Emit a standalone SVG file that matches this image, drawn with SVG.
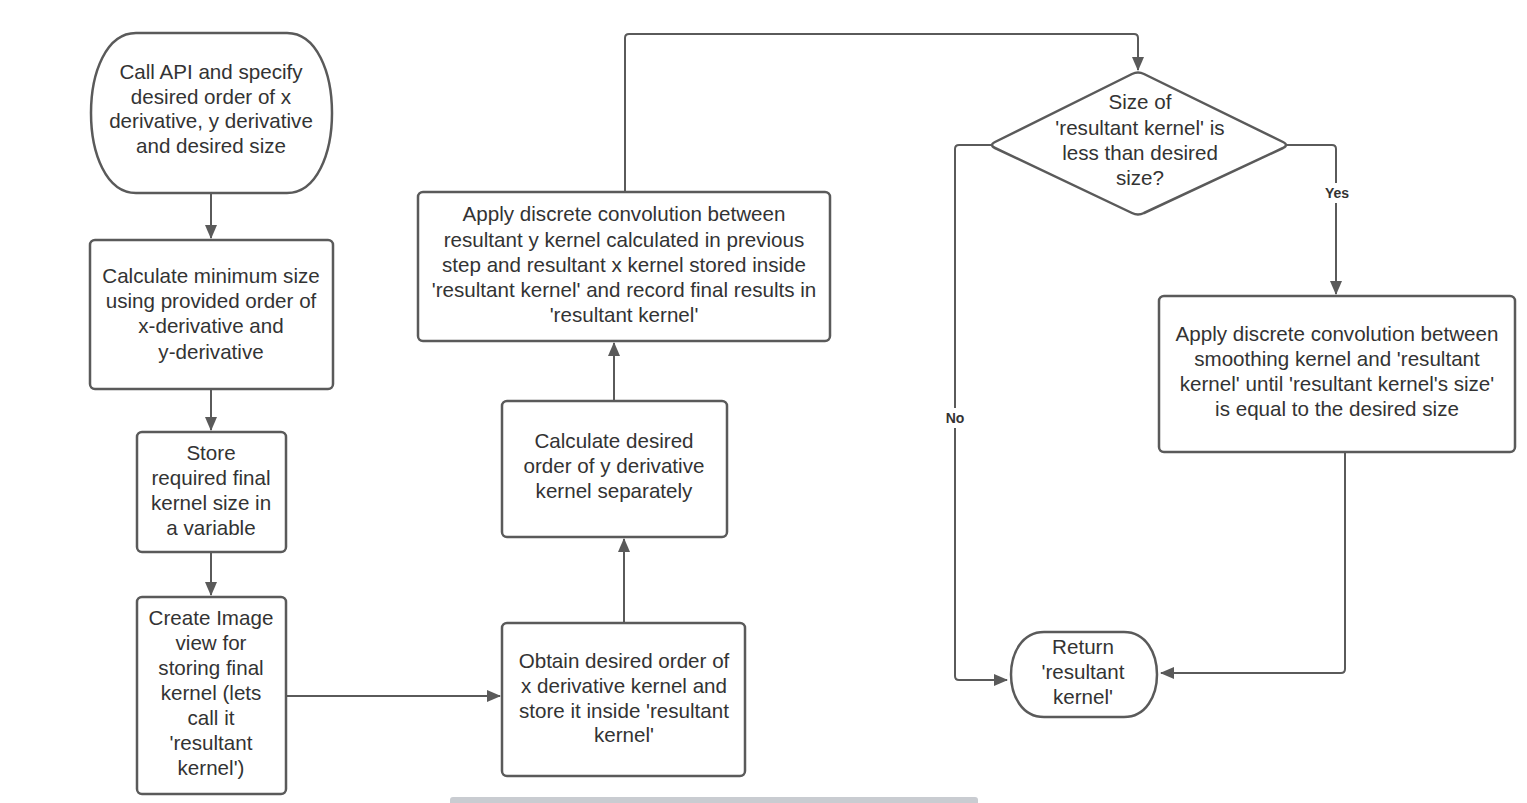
<svg xmlns="http://www.w3.org/2000/svg" width="1527" height="803" viewBox="0 0 1527 803">
<defs>
<marker id="ah" markerWidth="14" markerHeight="12" refX="13" refY="6" orient="auto" markerUnits="userSpaceOnUse" viewBox="0 0 14 12">
<path d="M0,0 L14,6 L0,12 z" fill="#5a5a5a"/>
</marker>
<style>
.s{fill:#fff;stroke:#5a5a5a;stroke-width:2.5}
.c{fill:none;stroke:#5a5a5a;stroke-width:2;stroke-linejoin:round}
.t{font-family:"Liberation Sans",Arial,sans-serif;font-size:20.6px;fill:#333;text-anchor:middle}
.l{font-family:"Liberation Sans",Arial,sans-serif;font-size:14px;font-weight:bold;fill:#333;text-anchor:middle}
</style>
</defs>
<rect width="1527" height="803" fill="#fff"/>
<g id="connectors">
<path class="c" d="M211,193 V238" marker-end="url(#ah)"/>
<path class="c" d="M211,389 V430" marker-end="url(#ah)"/>
<path class="c" d="M211,552 V595" marker-end="url(#ah)"/>
<path class="c" d="M286,696 H500" marker-end="url(#ah)"/>
<path class="c" d="M624,623 V539" marker-end="url(#ah)"/>
<path class="c" d="M614,401 V343" marker-end="url(#ah)"/>
<path class="c" d="M625,192 V38 Q625,34 629,34 H1134 Q1138,34 1138,38 V70" marker-end="url(#ah)"/>
<path class="c" d="M1287,145 H1332 Q1336,145 1336,149 V294" marker-end="url(#ah)"/>
<path class="c" d="M1345,452 V669 Q1345,673 1341,673 H1161" marker-end="url(#ah)"/>
<path class="c" d="M991,145 H959 Q955,145 955,149 V676 Q955,680 959,680 H1007" marker-end="url(#ah)"/>
<rect x="1320" y="183" width="34" height="20" fill="#fff"/>
<text class="l" x="1337" y="198">Yes</text>
<rect x="940" y="408" width="30" height="20" fill="#fff"/>
<text class="l" x="955" y="423">No</text>
</g>
<g id="start">
<path class="s" d="M136,33 H287 C347,33 347,193 287,193 H136 C76,193 76,33 136,33 Z"/>
<text class="t" x="211" y="79">Call API and specify</text>
<text class="t" x="211" y="104">desired order of x</text>
<text class="t" x="211" y="128">derivative, y derivative</text>
<text class="t" x="211" y="153">and desired size</text>
</g>
<g id="calcMin">
<rect class="s" x="90" y="240" width="243" height="149" rx="5"/>
<text class="t" x="211" y="283">Calculate minimum size</text>
<text class="t" x="211" y="308">using provided order of</text>
<text class="t" x="211" y="333">x-derivative and</text>
<text class="t" x="211" y="359">y-derivative</text>
</g>
<g id="store">
<rect class="s" x="137" y="432" width="149" height="120" rx="5"/>
<text class="t" x="211" y="460">Store</text>
<text class="t" x="211" y="485">required final</text>
<text class="t" x="211" y="510">kernel size in</text>
<text class="t" x="211" y="535">a variable</text>
</g>
<g id="createImage">
<rect class="s" x="137" y="597" width="149" height="197" rx="5"/>
<text class="t" x="211" y="625">Create Image</text>
<text class="t" x="211" y="650">view for</text>
<text class="t" x="211" y="675">storing final</text>
<text class="t" x="211" y="700">kernel (lets</text>
<text class="t" x="211" y="725">call it</text>
<text class="t" x="211" y="750">'resultant</text>
<text class="t" x="211" y="775">kernel')</text>
</g>
<g id="obtainX">
<rect class="s" x="502" y="623" width="243" height="153" rx="5"/>
<text class="t" x="624" y="668">Obtain desired order of</text>
<text class="t" x="624" y="693">x derivative kernel and</text>
<text class="t" x="624" y="718">store it inside 'resultant</text>
<text class="t" x="624" y="742">kernel'</text>
</g>
<g id="calcY">
<rect class="s" x="502" y="401" width="225" height="136" rx="5"/>
<text class="t" x="614" y="448">Calculate desired</text>
<text class="t" x="614" y="473">order of y derivative</text>
<text class="t" x="614" y="498">kernel separately</text>
</g>
<g id="convXY">
<rect class="s" x="418" y="192" width="412" height="149" rx="5"/>
<text class="t" x="624" y="221">Apply discrete convolution between</text>
<text class="t" x="624" y="247">resultant y kernel calculated in previous</text>
<text class="t" x="624" y="272">step and resultant x kernel stored inside</text>
<text class="t" x="624" y="297">'resultant kernel' and record final results in</text>
<text class="t" x="624" y="322">'resultant kernel'</text>
</g>
<g id="decision">
<path class="s" d="M1132,74 Q1138,71 1144,74 L1283,142 Q1289,145 1283,148 L1144,213 Q1138,216 1132,213 L995,148 Q989,145 995,142 Z"/>
<text class="t" x="1140" y="109">Size of</text>
<text class="t" x="1140" y="135">'resultant kernel' is</text>
<text class="t" x="1140" y="160">less than desired</text>
<text class="t" x="1140" y="185">size?</text>
</g>
<g id="smooth">
<rect class="s" x="1159" y="296" width="356" height="156" rx="5"/>
<text class="t" x="1337" y="341">Apply discrete convolution between</text>
<text class="t" x="1337" y="366">smoothing kernel and 'resultant</text>
<text class="t" x="1337" y="391">kernel' until 'resultant kernel's size'</text>
<text class="t" x="1337" y="416">is equal to the desired size</text>
</g>
<g id="return">
<path class="s" d="M1044,632 H1124 C1168,632 1168,717 1124,717 H1044 C1000,717 1000,632 1044,632 Z"/>
<text class="t" x="1083" y="654">Return</text>
<text class="t" x="1083" y="679">'resultant</text>
<text class="t" x="1083" y="704">kernel'</text>
</g>
<rect x="450" y="797" width="528" height="10" rx="3" fill="#c9ccd1"/>
</svg>
